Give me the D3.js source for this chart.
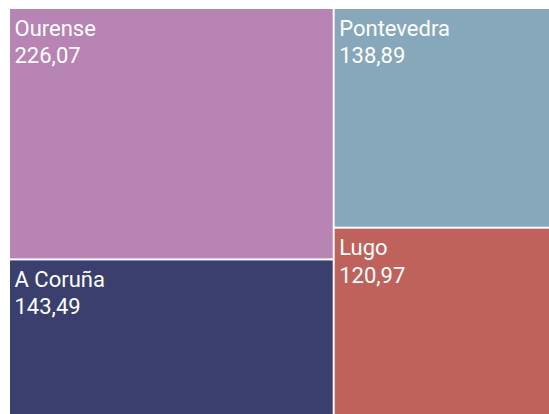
<!DOCTYPE html>
<html><head><meta charset="utf-8">
<script src="https://cdn.jsdelivr.net/npm/d3@7/dist/d3.min.js"></script>
<style>body{margin:0;background:#fff;overflow:hidden}svg{display:block}</style>
</head><body>
<svg id="c" width="549" height="414"></svg>
<script>
const names = ["Ourense", "A Coruña", "Pontevedra", "Lugo"];
const values = [226.07, 143.49, 138.89, 120.97];
const colors = ["#B784B4", "#3A3F6E", "#86A8BA", "#BE625B"];

const svg = d3.select("#c");
const data = {children: names.map((n, i) => ({name: n, value: values[i], color: colors[i]}))};
const root = d3.hierarchy(data).sum(d => d.value || 0).sort((a, b) => b.value - a.value);
d3.treemap().tile(d3.treemapSquarify).size([551, 409]).paddingInner(2).round(false)(root);

const fmt = v => d3.format(".2f")(v).replace(".", ",");
const g = svg.append("g").attr("transform", "translate(10,9)");
const cell = g.selectAll("g").data(root.leaves()).join("g")
  .attr("transform", d => `translate(${d.x0},${d.y0})`);
cell.append("rect")
  .attr("width", d => d.x1 - d.x0)
  .attr("height", d => d.y1 - d.y0)
  .attr("fill", d => d.data.color);
const t = cell.append("text").attr("fill", "#fff")
  .style("font-family", "Roboto, sans-serif").style("font-size", "22px");
t.append("tspan").attr("x", 4.5).attr("y", 26.5).text(d => d.data.name);
t.append("tspan").attr("x", 4.5).attr("y", 54).text(d => fmt(d.data.value));
</script>
</body></html>
